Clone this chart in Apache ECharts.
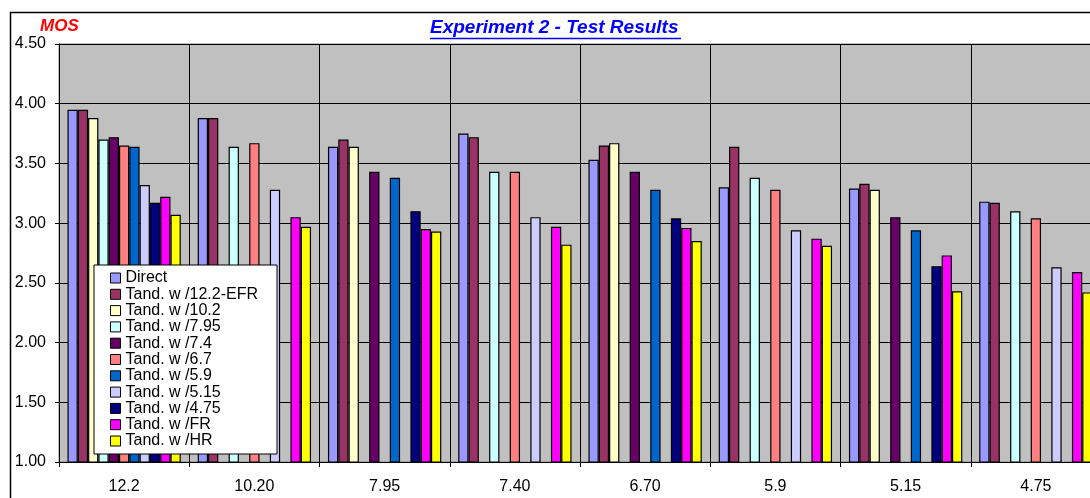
<!DOCTYPE html>
<html>
<head>
<meta charset="utf-8">
<script src="https://cdn.jsdelivr.net/npm/echarts@6/dist/echarts.min.js"></script>
<style>
html,body{margin:0;padding:0;background:#fff;overflow:hidden;width:1090px;height:498px;}
#c{width:1101px;height:498px;}
</style>
</head>
<body>
<div id="c"></div>
<script>
const categories = ['12.2', '10.20', '7.95', '7.40', '6.70', '5.9', '5.15', '4.75'];
const seriesNames = ['Direct', 'Tand. w /12.2-EFR', 'Tand. w /10.2', 'Tand. w /7.95', 'Tand. w /7.4', 'Tand. w /6.7', 'Tand. w /5.9', 'Tand. w /5.15', 'Tand. w /4.75', 'Tand. w /FR', 'Tand. w /HR'];
const direct = [3.95, 3.88, 3.64, 3.75, 3.53, 3.30, 3.29, 3.18];
const tandEFR = [3.95, 3.88, 3.70, 3.72, 3.65, 3.64, 3.33, 3.17];
const tand102 = [3.88, null, 3.64, null, 3.67, null, 3.28, null];
const tand795 = [3.70, 3.64, null, 3.43, null, 3.38, null, 3.10];
const tand74 = [3.72, null, 3.43, null, 3.43, null, 3.05, null];
const tand67 = [3.65, 3.67, null, 3.43, null, 3.28, null, 3.04];
const tand59 = [3.64, null, 3.38, null, 3.28, null, 2.94, null];
const tand515 = [3.32, 3.28, null, 3.05, null, 2.94, null, 2.63];
const tand475 = [3.17, null, 3.10, null, 3.04, null, 2.64, null];
const tandFR = [3.22, 3.05, 2.95, 2.97, 2.96, 2.87, 2.73, 2.59];
const tandHR = [3.07, 2.97, 2.93, 2.82, 2.85, 2.81, 2.43, 2.42];
const yTicks = ['1.00', '1.50', '2.00', '2.50', '3.00', '3.50', '4.00', '4.50'];

const seriesData = [direct, tandEFR, tand102, tand795, tand74, tand67, tand59, tand515, tand475, tandFR, tandHR];
const colors = ['#9999FF', '#993366', '#FFFFCC', '#CCFFFF', '#660066', '#FF8080', '#0066CC', '#CCCCFF', '#000080', '#FF00FF', '#FFFF00'];
const FONT = 'Arial, "Liberation Sans", sans-serif';

const chart = echarts.init(document.getElementById('c'), null, {renderer: 'canvas'});
chart.setOption({
  animation: false,
  backgroundColor: '#ffffff',
  title: {
    text: 'Experiment 2 - Test Results',
    left: 430, top: 18,
    padding: 0,
    textStyle: {fontFamily: FONT, fontSize: 19, fontWeight: 'bold', fontStyle: 'italic', color: '#0000FF'}
  },
  graphic: [
    {type: 'rect', shape: {x: 10.5, y: 12.5, width: 1200, height: 600}, style: {fill: 'none', stroke: '#000', lineWidth: 1.5}, silent: true},
    {type: 'line', shape: {x1: 430, y1: 38.5, x2: 681, y2: 38.5}, style: {stroke: '#0000FF', lineWidth: 1.5}, silent: true},
    {type: 'text', left: 40, top: 18, style: {text: 'MOS', fill: '#FF0000', font: 'italic bold 17px ' + FONT}, silent: true}
  ],
  legend: {
    orient: 'vertical',
    left: 94, top: 265,
    backgroundColor: '#ffffff',
    borderColor: '#000000',
    borderWidth: 1,
    padding: [5, 19, 5, 16],
    itemWidth: 10, itemHeight: 10,
    itemGap: 0.3,
    icon: 'rect',
    data: seriesNames,
    itemStyle: {borderColor: '#000', borderWidth: 1},
    textStyle: {fontFamily: FONT, fontSize: 16, color: '#000', lineHeight: 16}
  },
  grid: {
    left: 59, top: 44, right: 0, bottom: 36,
    show: true, backgroundColor: '#C0C0C0', borderColor: '#808080', borderWidth: 1,
    containLabel: false
  },
  xAxis: {
    type: 'category',
    data: categories,
    boundaryGap: true,
    axisLine: {show: true, lineStyle: {color: '#000', width: 1}},
    axisTick: {show: true, length: 5, inside: false, lineStyle: {color: '#000'}},
    splitLine: {show: true, lineStyle: {color: '#000', width: 1}},
    axisLabel: {fontFamily: FONT, fontSize: 16, color: '#000', margin: 17}
  },
  yAxis: {
    type: 'value',
    min: 1, max: 4.5, interval: 0.5,
    axisLine: {show: true, lineStyle: {color: '#000', width: 1}},
    axisTick: {show: true, length: 4, lineStyle: {color: '#000'}},
    splitLine: {show: true, lineStyle: {color: '#000', width: 1}},
    axisLabel: {
      fontFamily: FONT, fontSize: 16, color: '#000', margin: 13,
      formatter: function (v) { const i = Math.round((v - 1) / 0.5); return yTicks[i] !== undefined ? yTicks[i] : ''; }
    }
  },
  series: seriesNames.map(function (name, i) {
    return {
      name: name,
      type: 'bar',
      data: seriesData[i],
      barGap: '0%',
      barCategoryGap: '13%',
      itemStyle: {color: colors[i], borderColor: '#000', borderWidth: 1.2}
    };
  })
});
</script>
</body>
</html>
